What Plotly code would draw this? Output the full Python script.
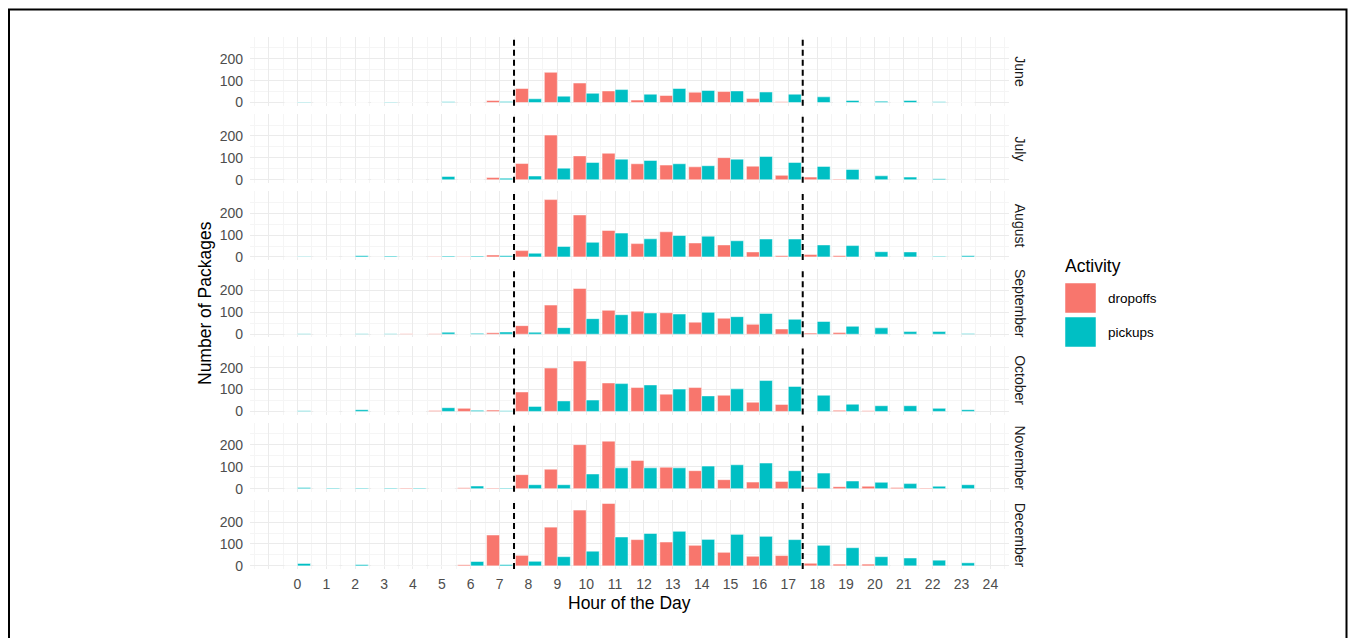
import plotly.graph_objects as go
from plotly.subplots import make_subplots

hours = list(range(24))
months = ["June", "July", "August", "September", "October", "November", "December"]

june_drop = [0,0,0,0,0,0,0,9,64,138,89,53,11,32,47,50,18,3,0,0,0,0,0,0]
june_pick = [2,0,0,2,0,3,0,5,17,29,42,59,38,64,55,53,48,38,26,9,6,9,3,0]
july_drop = [0,0,0,0,0,0,0,10,74,204,109,121,73,67,59,101,62,20,12,3,0,0,0,0]
july_pick = [0,0,0,0,0,15,0,7,17,53,79,94,88,73,64,94,106,79,61,47,18,12,5,0]
aug_drop = [0,0,0,0,0,2,2,9,29,262,192,121,61,115,64,55,23,6,11,6,0,0,0,0]
aug_pick = [2,0,6,4,0,4,4,6,17,48,67,109,83,98,95,74,82,82,55,52,24,23,3,6]
sep_drop = [0,0,0,0,2,2,0,7,39,133,209,109,105,98,55,73,45,24,5,8,0,0,0,0]
sep_pick = [2,0,2,2,0,9,4,10,9,30,71,89,97,92,100,80,95,68,58,36,29,12,12,3]
oct_drop = [0,0,0,0,0,4,14,6,89,198,230,130,109,79,109,74,42,32,0,5,3,0,0,0]
oct_pick = [3,0,8,0,0,17,5,3,23,48,52,127,121,102,71,103,141,114,74,33,26,26,14,8]
nov_drop = [0,0,0,0,3,0,4,3,64,89,201,217,129,98,82,41,30,33,5,9,11,5,3,0]
nov_pick = [5,3,3,3,3,0,12,3,18,18,67,95,95,95,103,109,117,82,71,35,29,23,11,18]
dec_drop = [0,0,0,0,0,0,5,141,48,177,255,285,120,109,94,62,44,47,12,8,8,0,0,0]
dec_pick = [11,0,6,0,0,0,20,6,21,42,67,132,148,158,121,144,135,120,94,83,42,36,26,14]

dropoffs = [june_drop, july_drop, aug_drop, sep_drop, oct_drop, nov_drop, dec_drop]
pickups = [june_pick, july_pick, aug_pick, sep_pick, oct_pick, nov_pick, dec_pick]

x_ticks = list(range(25))
y_ticks = [0, 100, 200]
activities = ["dropoffs", "pickups"]
colors = {"dropoffs": "#F8766D", "pickups": "#00BFC4"}
shift_lines = [7.5, 17.5]

W, H = 1348, 638
L, R, T, B = 250, 1009, 37, 569
nrows = len(months)
gap = 8.6

fig = make_subplots(rows=nrows, cols=1, shared_xaxes=True,
                    vertical_spacing=gap / (B - T))

for i, m in enumerate(months):
    r = i + 1
    for act, vals in (("dropoffs", dropoffs[i]), ("pickups", pickups[i])):
        fig.add_trace(go.Bar(x=hours, y=vals, name=act,
                             marker=dict(color=colors[act], line=dict(color="white", width=0.5)),
                             showlegend=False, legendgroup=act,
                             offsetgroup=act), row=r, col=1)
    for xv in shift_lines:
        fig.add_shape(type="line", x0=xv, x1=xv, y0=0, y1=1,
                      xref=f"x{'' if r == 1 else r}", yref=f"y{'' if r == 1 else r} domain",
                      line=dict(color="black", width=2, dash="6px,4px"))

grid_major = "#EBEBEB"
grid_minor = "#F5F5F5"
tickfont = dict(family="Liberation Sans, Arial, sans-serif", size=14, color="#4D4D4D")

for i in range(nrows):
    r = i + 1
    fig.update_xaxes(range=[-1.645, 24.645], tickmode="array",
                     tickvals=[-1] + x_ticks, ticktext=[""] + [str(v) for v in x_ticks],
                     showgrid=True, gridcolor=grid_major, gridwidth=1,
                     minor=dict(tick0=0.5, dtick=1, showgrid=True, gridcolor=grid_minor, gridwidth=0.6),
                     zeroline=False, showline=False, ticks="",
                     showticklabels=(r == nrows), tickfont=tickfont,
                     ticklabelstandoff=5, row=r, col=1)
    fig.update_yaxes(range=[-14.25, 299.25], tickmode="array", tickvals=y_ticks,
                     showgrid=True, gridcolor=grid_major, gridwidth=1,
                     minor=dict(tickmode="array", tickvals=[50, 150, 250], showgrid=True,
                                gridcolor=grid_minor, gridwidth=0.6),
                     zeroline=False, showline=False, ticks="",
                     tickfont=tickfont, ticklabelstandoff=6, row=r, col=1)

def px_x(p):
    return (p - L) / (R - L)

def px_y(p):
    return (B - p) / (B - T)

annotations = []
panel_h = ((B - T) - gap * (nrows - 1)) / nrows
for i, m in enumerate(months):
    top = T + i * (panel_h + gap)
    cy = top + panel_h / 2
    annotations.append(dict(text=m, x=px_x(1020), y=px_y(cy), xref="paper", yref="paper",
                            showarrow=False, textangle=90, xanchor="center", yanchor="middle",
                            font=dict(family="Liberation Sans, Arial, sans-serif", size=14, color="#1A1A1A")))

title_font = dict(family="Liberation Sans, Arial, sans-serif", size=17.5, color="black")
annotations.append(dict(text="Hour of the Day", x=px_x(629.5), y=px_y(603), xref="paper", yref="paper",
                        showarrow=False, xanchor="center", yanchor="middle", font=title_font))
annotations.append(dict(text="Number of Packages", x=px_x(205), y=px_y(303), xref="paper", yref="paper",
                        showarrow=False, textangle=-90, xanchor="center", yanchor="middle", font=title_font))

# legend
annotations.append(dict(text="Activity", x=px_x(1063), y=px_y(266), xref="paper", yref="paper",
                        showarrow=False, xanchor="left", yanchor="middle", font=title_font))
shapes = []
key_tops = [283, 317]
for act, ktop in zip(activities, key_tops):
    shapes.append(dict(type="rect", xref="paper", yref="paper",
                       x0=px_x(1065), x1=px_x(1096), y0=px_y(ktop + 30), y1=px_y(ktop),
                       fillcolor=colors[act], line=dict(color="white", width=0.5)))
    annotations.append(dict(text=act, x=px_x(1106), y=px_y(ktop + 15), xref="paper", yref="paper",
                            showarrow=False, xanchor="left", yanchor="middle",
                            font=dict(family="Liberation Sans, Arial, sans-serif", size=13.5, color="black")))

# outer border
shapes.append(dict(type="rect", xref="paper", yref="paper",
                   x0=px_x(9), x1=px_x(1346.5), y0=px_y(660), y1=px_y(9.5),
                   line=dict(color="black", width=2), fillcolor="rgba(0,0,0,0)"))

for s in shapes:
    fig.add_shape(**s)

fig.update_layout(width=W, height=H, margin=dict(l=L, r=W - R, t=T, b=H - B),
                  plot_bgcolor="white", paper_bgcolor="white",
                  barmode="group", bargap=0.1, bargroupgap=0,
                  showlegend=False, annotations=annotations,
                  hovermode=False,
                  font=dict(family="Liberation Sans, Arial, sans-serif"))

fig.write_html("out.html", config={"displayModeBar": False},
               post_script="document.body.style.margin='0px';document.body.style.overflow='hidden';")
